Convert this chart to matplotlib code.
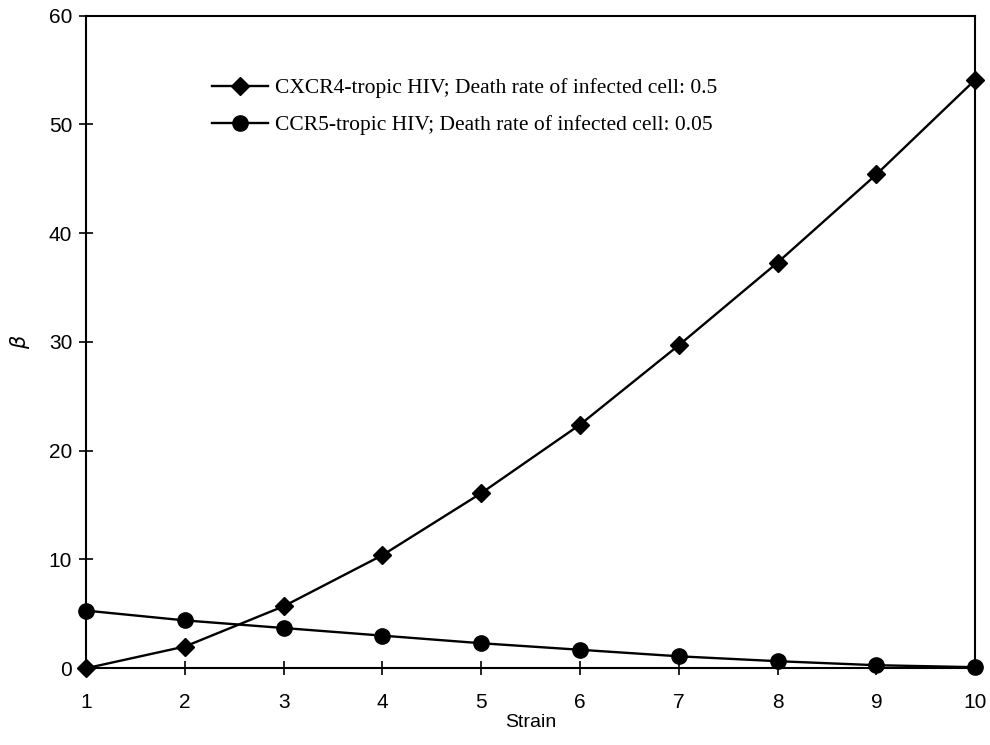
import matplotlib.pyplot as plt

# strain index on x, beta on y
strains = [1, 2, 3, 4, 5, 6, 7, 8, 9, 10]
cxcr4_beta = [0.0, 2.0, 5.7, 10.4, 16.1, 22.4, 29.7, 37.3, 45.4, 54.1]
ccr5_beta = [5.3, 4.4, 3.7, 3.0, 2.3, 1.7, 1.1, 0.65, 0.28, 0.1]

cxcr4_label = 'CXCR4-tropic HIV; Death rate of infected cell: 0.5'
ccr5_label = 'CCR5-tropic HIV; Death rate of infected cell: 0.05'

plt.rcParams['font.family'] = ['Liberation Sans', 'DejaVu Sans']

fig = plt.figure(figsize=(9.9, 7.45), dpi=100)
ax = fig.add_axes([0.087, 0.103, 0.898, 0.876])

ax.plot(strains, cxcr4_beta, color='black', lw=1.7, marker='D', ms=9,
        label=cxcr4_label, clip_on=False, zorder=3)
ax.plot(strains, ccr5_beta, color='black', lw=1.7, marker='o', ms=11,
        label=ccr5_label, clip_on=False, zorder=3)

ax.set_xlim(1, 10)
ax.set_ylim(0, 60)
ax.set_xticks(strains)
ax.set_yticks(range(0, 61, 10))
ax.tick_params(direction='inout', length=10, width=1.2, labelsize=15)
ax.tick_params(axis='y', pad=5)
ax.tick_params(axis='x', pad=13)
for s in ax.spines.values():
    s.set_linewidth(1.5)

ax.set_xlabel('Strain', fontsize=14, labelpad=1)
ax.set_ylabel(r'$\beta$', fontsize=15, labelpad=12)

ax.legend(loc='upper left', bbox_to_anchor=(0.12, 0.934), frameon=False,
          prop={'family': 'Liberation Serif', 'size': 15.5},
          handlelength=2.6, handletextpad=0.33, labelspacing=0.8)

fig.savefig('out.png', dpi=100)
